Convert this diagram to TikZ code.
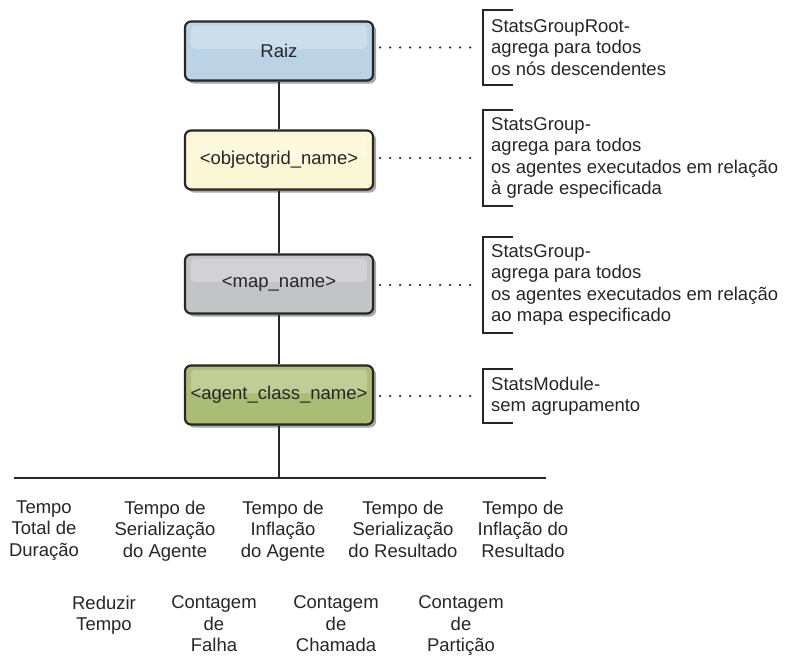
\documentclass[tikz,border=0pt]{standalone}
\usepackage{fontspec}
\setmainfont{Liberation Sans}
\usetikzlibrary{arrows.meta,positioning,shadows}
\definecolor{rootblue}{HTML}{BBD3E5}
\definecolor{gridyellow}{HTML}{FBF7D5}
\definecolor{mapgray}{HTML}{C3C4C6}
\definecolor{agentgreen}{HTML}{ABBD74}
\begin{document}
\begin{tikzpicture}[x=1pt,y=-1pt,
every node/.style={font=\fontsize{18.5}{21.5}\selectfont,text=black!85},
levelbox/.style={rectangle,rounded corners=6pt,draw=black!85,line width=2.2pt,
  minimum width=188pt,minimum height=59pt,inner sep=0pt,
  drop shadow={shadow xshift=3pt,shadow yshift=-3pt,fill=black!35,opacity=1},
  path picture={\fill[white,opacity=.25,rounded corners=4pt]
    ([xshift=6pt,yshift=-4pt]path picture bounding box.north west) rectangle
    ([xshift=-6pt,yshift=2pt]path picture bounding box.east);}},
remark/.style={anchor=west,align=left,inner xsep=8pt,inner ysep=0pt,minimum height=#1},
metric/.style={anchor=north,align=center,inner sep=0pt},
trunk/.style={draw=black!85,line width=2pt},
dots/.style={draw=black!85,line width=2.4pt,line cap=round,dash pattern=on 0pt off 10pt},
bracket/.style={draw=black!85,line width=2pt}]
\useasboundingbox (0,0) rectangle (785,656);
\node[levelbox,fill=rootblue] (raiz) at (279,51) {Raiz};
\node[levelbox,fill=gridyellow] (grid) at (279,160) {<objectgrid\_name>};
\node[levelbox,fill=mapgray] (map) at (279,284) {<map\_name>};
\node[levelbox,fill=agentgreen] (agent) at (279,395) {<agent\_class\_name>};
\coordinate (barL) at (14,478);
\coordinate (barM) at (279,478);
\coordinate (barR) at (546,478);
\node[remark=75pt] (rootnote) at (483,47.5) {StatsGroupRoot-\\agrega para todos\\os nós descendentes};
\node[remark=96pt] (gridnote) at (483,158) {StatsGroup-\\agrega para todos\\os agentes executados em relação\\à grade especificada};
\node[remark=96pt] (mapnote) at (483,285) {StatsGroup-\\agrega para todos\\os agentes executados em relação\\ao mapa especificado};
\node[remark=53pt] (agentnote) at (483,396) {StatsModule-\\sem agrupamento};
\draw[trunk] (raiz)--(grid)--(map)--(agent)--(barM);
\draw[trunk] (barL)--(barR);
\foreach \b/\n in {raiz/rootnote,grid/gridnote,map/mapnote,agent/agentnote}{
  \draw[dots] ([xshift=6pt]\b.east |- \n.west)--([xshift=-3pt]\n.west);
  \draw[bracket] ([xshift=30pt]\n.north west)--(\n.north west)--(\n.south west)--([xshift=30pt]\n.south west);
}
\node[metric] (total) at (44,500.5) {Tempo\\Total de\\Duração};
\node[metric] (serag) at (165,500.5) {Tempo de\\Serialização\\do Agente};
\node[metric] (infag) at (283,500.5) {Tempo de\\Inflação\\do Agente};
\node[metric] (serres) at (403,500.5) {Tempo de\\Serialização\\do Resultado};
\node[metric] (infres) at (523,500.5) {Tempo de\\Inflação do\\Resultado};
\node[metric] (reduce) at (104,595.5) {Reduzir\\Tempo};
\node[metric] (fail) at (214,595.5) {Contagem\\de\\Falha};
\node[metric] (call) at (336,595.5) {Contagem\\de\\Chamada};
\node[metric] (part) at (461,595.5) {Contagem\\de\\Partição};
\end{tikzpicture}
\end{document}
